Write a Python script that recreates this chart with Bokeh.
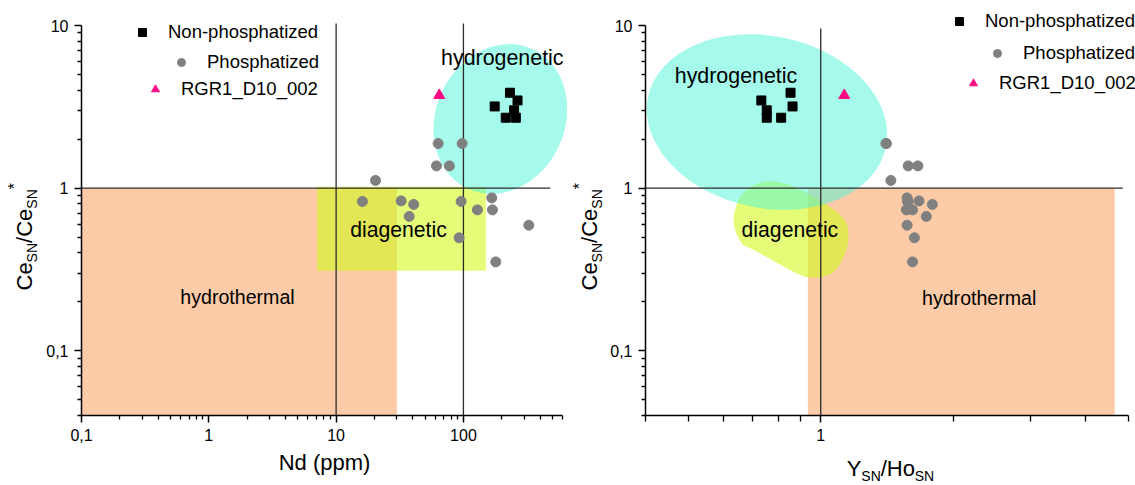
import math
import numpy as np
from bokeh.plotting import figure
from bokeh.layouts import row, column
from bokeh.models import (FixedTicker, CustomJSTickFormatter, Legend, LegendItem, Label)
from bokeh.core.properties import value
from bokeh.embed import file_html
from bokeh.resources import INLINE

FONT = "Liberation Sans"

# ---------------- data ----------------
ce_anom_phos = [1.88, 1.88, 1.37, 1.37, 1.115, 0.828, 0.835, 0.794, 0.670, 0.828,
                0.735, 0.871, 0.735, 0.592, 0.495, 0.352]
nd_phos = [63.3, 97.7, 61.4, 77.6, 20.4, 16.1, 32.4, 40.7, 37.5, 95.9,
           128.8, 166.8, 169.0, 326.0, 92.5, 179.5]
yho_phos = [1.406, 1.41, 1.580, 1.662, 1.443, 1.580, 1.672, 1.792, 1.737, 1.575,
            1.565, 1.571, 1.616, 1.571, 1.632, 1.616]

ce_anom_non = [3.18, 3.86, 3.46, 3.01, 2.71, 2.71]
nd_non = [176.0, 232.0, 266.0, 250.0, 215.0, 258.0]
yho_non = [0.863, 0.854, 0.733, 0.754, 0.754, 0.813]

ce_anom_rgr = [3.72]
nd_rgr = [64.6]
yho_rgr = [1.131]

hydrothermal_left = dict(left=0.1, right=30.0, bottom=0.04, top=1.0)
diagenetic_left = dict(left=7.1, right=150.0, bottom=0.31, top=1.02)
hydrogenetic_left = dict(x=195.0, y=2.66, w=129, h=154, angle=-25)
hydrothermal_right = dict(left=0.935, right=4.65, bottom=0.04, top=1.0)
hydrogenetic_right = dict(x=0.755, y=2.55, w=243, h=172, angle=-12)
diag_blob_x = [0.762, 0.862, 1.0026, 1.124, 1.156, 1.134, 1.062, 0.957, 0.878, 0.713, 0.661, 0.634, 0.649, 0.688]
diag_blob_y = [1.104, 1.029, 0.832, 0.656, 0.519, 0.391, 0.301, 0.281, 0.301, 0.410, 0.461, 0.612, 0.832, 1.004]

y_bounds = (0.04, 10)
x_bounds_left = (0.1, 600)
x_bounds_right = (0.4, 5)
y_major = [0.1, 1, 10]
x_major_left = [0.1, 1, 10, 100]
x_major_right = [1]
x_minor_right = [0.4, 0.5, 0.6, 0.7, 0.8, 0.9, 2, 3, 4, 5]

ORANGE = "#fdcba8"
YELLOW = "#d2fa1e"
CYAN = "#4df5d9"
GREY = "#808080"
PINK = "#ff0a84"
LINE = "#2b2b2b"


def extend(lo, hi, axis_px, frame_px):
    return 10 ** (math.log10(lo) + (math.log10(hi) - math.log10(lo)) * frame_px / axis_px)


def log_minors(lo, hi, decades):
    out = []
    for k in decades:
        for m in range(2, 10):
            v = m * 10.0 ** k
            if lo <= v <= hi:
                out.append(round(v, 6))
    return out


def smooth_closed(xs, ys, n=14):
    P = np.column_stack([np.log10(xs), np.log10(ys)])
    N = len(P)
    out = []
    for i in range(N):
        p0, p1, p2, p3 = P[i - 1], P[i], P[(i + 1) % N], P[(i + 2) % N]
        for t in np.linspace(0, 1, n, endpoint=False):
            t2, t3 = t * t, t * t * t
            pt = 0.5 * ((2 * p1) + (-p0 + p2) * t + (2 * p0 - 5 * p1 + 4 * p2 - p3) * t2
                        + (-p0 + 3 * p1 - 3 * p2 + p3) * t3)
            out.append(pt)
    out = np.array(out)
    return list(10 ** out[:, 0]), list(10 ** out[:, 1])


fmt = CustomJSTickFormatter(code="return tick.toString().replace('.', ',');")


def style(p, xticks, xminor, xb):
    p.xgrid.visible = False
    p.ygrid.visible = False
    p.outline_line_color = None
    p.xaxis.ticker = FixedTicker(ticks=xticks, minor_ticks=xminor)
    p.yaxis.ticker = FixedTicker(ticks=y_major, minor_ticks=log_minors(0.04, 10, [-2, -1, 0]))
    p.xaxis.bounds = xb
    p.yaxis.bounds = y_bounds
    for ax in (p.xaxis[0], p.yaxis[0]):
        ax.formatter = fmt
        ax.axis_line_color = "black"
        ax.axis_line_width = 1.5
        ax.major_tick_line_color = "black"
        ax.minor_tick_line_color = "black"
        ax.major_tick_line_width = 1.5
        ax.minor_tick_line_width = 1.3
        ax.major_tick_in = 0
        ax.minor_tick_in = 0
        ax.major_tick_out = 7
        ax.minor_tick_out = 4
        ax.major_label_standoff = 6
        ax.major_label_text_font = FONT
        ax.major_label_text_font_size = "16px"
        ax.major_label_text_color = "black"
        ax.axis_label_text_font = FONT
        ax.axis_label_text_font_size = "22px"
        ax.axis_label_text_font_style = "normal"
        ax.axis_label_text_color = "black"


def add_legend(p, renderer, label, left, bottom):
    lg = Legend(items=[LegendItem(label=label, renderers=[renderer])],
                location=(left, bottom), padding=0, margin=0, spacing=0,
                glyph_width=20, glyph_height=22, label_height=22, label_standoff=16,
                background_fill_alpha=0, border_line_alpha=0,
                label_text_font=FONT, label_text_font_size="18.5px",
                label_text_color="black")
    p.add_layout(lg)


def add_text(p, txt, x, y, size):
    p.add_layout(Label(x=x, y=y, text=txt, text_font=FONT, text_font_size=size,
                       text_color="black", text_align="center", text_baseline="middle"))


def label_fig(w, h, xr, yr):
    # strip whose data coordinates are page pixels (x from left, y = 485 - y from top);
    # xr / yr are the pixel extents of its frame once the layout aligns it with its neighbours
    f = figure(width=w, height=h, x_range=xr, y_range=yr,
               min_border=0, min_border_left=0, min_border_right=0,
               min_border_top=0, min_border_bottom=0,
               x_axis_location=None, y_axis_location=None,
               output_backend="svg", toolbar_location=None)
    f.xgrid.visible = False
    f.ygrid.visible = False
    f.outline_line_color = None
    return f


def pieces(f, xs, ys, texts, sizes, angle):
    f.text(x=xs, y=ys, text=texts, angle=angle, text_font=value(FONT),
           text_font_size=sizes, text_color="black",
           text_align="left", text_baseline="alphabetic")


def ce_label(f, bx, y0):
    # bx: anchor of the main text; subscripts sit lower (to the right), the star higher
    main, sub = 22, 14
    w_ce = (722 + 556) / 1000 * main
    w_sn = (667 + 722) / 1000 * sub
    w_sl = 278 / 1000 * main
    ys, y = [], y0
    for w in (w_ce, w_sn, w_sl, w_ce, w_sn, 0):
        ys.append(y)
        y += w
    xs = [bx, bx + 7, bx, bx, bx + 7, bx - 10]
    texts = ["Ce", "SN", "/", "Ce", "SN", "*"]
    sizes = [f"{main}px", f"{sub}px", f"{main}px", f"{main}px", f"{sub}px", f"{sub + 2}px"]
    pieces(f, xs, ys, texts, sizes, math.pi / 2)


y_top = extend(y_bounds[0], y_bounds[1], 390, 415)

# ---------------- left plot ----------------
labL = label_fig(40, 485, (0, 40), (70, 485))
ce_label(labL, 24, 195)

p1 = figure(width=527, height=485, x_axis_type="log", y_axis_type="log",
            x_range=(x_bounds_left[0], extend(x_bounds_left[0], x_bounds_left[1], 481, 486)),
            y_range=(y_bounds[0], y_top),
            min_border_left=41, min_border_right=0, min_border_top=0, min_border_bottom=70,
            output_backend="svg", toolbar_location=None)
style(p1, x_major_left, log_minors(0.1, 600, [-1, 0, 1, 2]), x_bounds_left)
p1.xaxis.axis_label = "Nd (ppm)"
p1.xaxis.axis_label_standoff = 6

p1.quad(line_color=None, fill_color=ORANGE, **hydrothermal_left)
p1.quad(line_color=None, fill_color=YELLOW, fill_alpha=0.6, **diagenetic_left)
p1.ellipse(x=hydrogenetic_left["x"], y=hydrogenetic_left["y"], width=hydrogenetic_left["w"],
           height=hydrogenetic_left["h"], width_units="screen", height_units="screen",
           angle=math.radians(hydrogenetic_left["angle"]),
           fill_color=CYAN, fill_alpha=0.5, line_color=None)

p1.segment(x0=[10, 100], y0=[0.04, 0.04], x1=[10, 100], y1=[10.3, 10.3], line_color=LINE, line_width=1.3)
p1.segment(x0=[0.1], y0=[1], x1=[480], y1=[1], line_color=LINE, line_width=1.3)

r_non1 = p1.scatter(nd_non, ce_anom_non, marker="square", size=9, fill_color="black", line_color="black")
r_pho1 = p1.scatter(nd_phos, ce_anom_phos, marker="circle", size=10, fill_color=GREY, line_color=GREY)
r_rgr1 = p1.scatter(nd_rgr, ce_anom_rgr, marker="triangle", size=11, fill_color=PINK, line_color=PINK)

add_text(p1, "hydrogenetic", 202, 6.31, "21.4px")
add_text(p1, "diagenetic", 30.9, 0.56, "21.2px")
add_text(p1, "hydrothermal", 1.68, 0.213, "19.6px")

add_legend(p1, r_non1, "Non-phosphatized", 51, 372)
add_legend(p1, r_pho1, "Phosphatized", 90, 342)
add_legend(p1, r_rgr1, "RGR1_D10_002", 64, 315)

# ---------------- right plot ----------------
labR = label_fig(40, 485, (567, 607), (70, 485))
ce_label(labR, 589, 195)

p2 = figure(width=528, height=455, x_axis_type="log", y_axis_type="log",
            x_range=(x_bounds_right[0], extend(x_bounds_right[0], x_bounds_right[1], 485, 492)),
            y_range=(y_bounds[0], y_top),
            min_border_left=36, min_border_right=0, min_border_top=0, min_border_bottom=40,
            output_backend="svg", toolbar_location=None)
style(p2, x_major_right, x_minor_right, x_bounds_right)
p2.xaxis[0].minor_tick_out = 6

p2.quad(line_color=None, fill_color=ORANGE, **hydrothermal_right)
bx, by = smooth_closed(diag_blob_x, diag_blob_y)
p2.patch(bx, by, fill_color=YELLOW, fill_alpha=0.6, line_color=None)
p2.ellipse(x=hydrogenetic_right["x"], y=hydrogenetic_right["y"], width=hydrogenetic_right["w"],
           height=hydrogenetic_right["h"], width_units="screen", height_units="screen",
           angle=math.radians(hydrogenetic_right["angle"]),
           fill_color=CYAN, fill_alpha=0.5, line_color=None)

p2.segment(x0=[1], y0=[0.04], x1=[1], y1=[9.6], line_color=LINE, line_width=1.3)
p2.segment(x0=[0.4], y0=[1], x1=[4.85], y1=[1], line_color=LINE, line_width=1.3)

r_non2 = p2.scatter(yho_non, ce_anom_non, marker="square", size=9, fill_color="black", line_color="black")
r_pho2 = p2.scatter(yho_phos, ce_anom_phos, marker="circle", size=10, fill_color=GREY, line_color=GREY)
r_rgr2 = p2.scatter(yho_rgr, ce_anom_rgr, marker="triangle", size=11, fill_color=PINK, line_color=PINK)

add_text(p2, "hydrogenetic", 0.642, 4.89, "21.4px")
add_text(p2, "diagenetic", 0.851, 0.56, "21.2px")
add_text(p2, "hydrothermal", 2.29, 0.21, "19.6px")

add_legend(p2, r_non2, "Non-phosphatized", 304, 383)
add_legend(p2, r_pho2, "Phosphatized", 342, 351)
add_legend(p2, r_rgr2, "RGR1_D10_002", 318, 321)

# x-axis label Y_SN/Ho_SN (strip under the right plot, page-pixel coordinates)
labX = label_fig(528, 30, (643, 1135), (0, 30))
x0 = 845
xs = [x0, x0 + 667 / 1000 * 22, x0 + 667 / 1000 * 22 + (667 + 722) / 1000 * 14,
      x0 + 667 / 1000 * 22 + (667 + 722) / 1000 * 14 + (278 + 722 + 556) / 1000 * 22]
pieces(labX, xs, [17, 10, 17, 10], ["Y", "SN", "/Ho", "SN"], ["22px", "14px", "22px", "14px"], 0.0)

layout = row(labL, p1, labR, column(p2, labX, spacing=0), spacing=0)
open("out.html", "w").write(file_html(layout, INLINE))
